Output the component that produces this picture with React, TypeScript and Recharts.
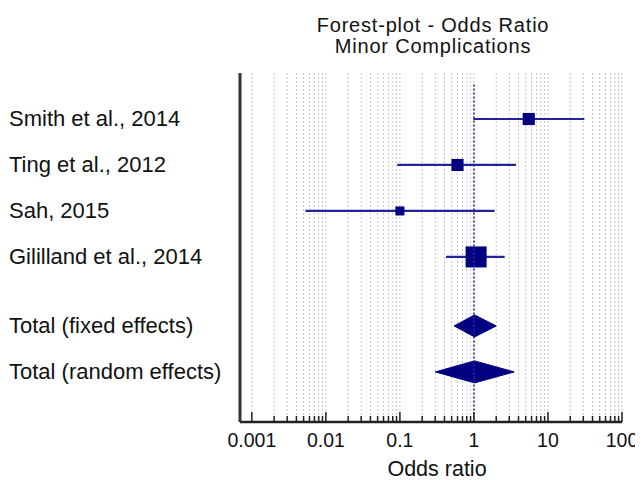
import React from 'react';
import { ComposedChart, Bar, XAxis, YAxis, CartesianGrid, ReferenceLine, Label } from 'recharts';

// ---- data ----
const studyLabels = [
  'Smith et al., 2014',
  'Ting et al., 2012',
  'Sah, 2015',
  'Gililland et al., 2014',
  'Total (fixed effects)',
  'Total (random effects)',
];
const rowPositions = [0, 1, 2, 3, 4.5, 5.5];
const oddsRatios = [5.5, 0.6, 0.1, 1.07, 1.02, 1.02];
const ciLower = [0.98, 0.092, 0.0053, 0.42, 0.54, 0.3];
const ciUpper = [31, 3.7, 1.9, 2.6, 2.0, 3.5];
const studyWeights = [18, 18, 10, 54, 100, 100];
const rowKinds = ['study', 'study', 'study', 'study', 'total', 'total'];

const decadeValues = [0.001, 0.01, 0.1, 1, 10, 100];
const tickLabels = ['0.001', '0.01', '0.1', '1', '10', '100'];
const minorMultipliers = [1, 2, 3, 4, 5, 6, 7, 8, 9];

const title1 = 'Forest-plot - Odds Ratio';
const title2 = 'Minor Complications';
const xTitle = 'Odds ratio';

// ---- derived ----
const decadeLogs = decadeValues.map((v) => Math.log10(v));
const gridTicks: number[] = [];
decadeValues.slice(0, -1).forEach((d) => {
  minorMultipliers.forEach((m) => gridTicks.push(Math.log10(d * m)));
});
gridTicks.push(Math.log10(decadeValues[decadeValues.length - 1]));

const rows = studyLabels.map((name, i) => ({
  name,
  pos: rowPositions[i],
  range: [Math.log10(ciLower[i]), Math.log10(ciUpper[i])],
  est: Math.log10(oddsRatios[i]),
  lo: Math.log10(ciLower[i]),
  hi: Math.log10(ciUpper[i]),
  weight: studyWeights[i],
  kind: rowKinds[i],
}));

const FONT = '"Liberation Sans", Arial, Helvetica, sans-serif';
const NAVY = '#000080';
const LINE = '#22229a';

const RowShape = (props: any) => {
  const { x, y, width, height, payload } = props;
  if (x == null || width == null) return null;
  const cy = y + height / 2;
  const frac = (payload.est - payload.lo) / (payload.hi - payload.lo);
  const xe = x + width * frac;
  if (payload.kind === 'total') {
    const h = 11;
    const pts = `${x},${cy} ${xe},${cy - h} ${x + width},${cy} ${xe},${cy + h}`;
    return <polygon points={pts} fill={NAVY} stroke={NAVY} strokeWidth={1} />;
  }
  const side = 2.86 * Math.sqrt(payload.weight);
  return (
    <g>
      <line x1={x} x2={x + width} y1={cy} y2={cy} stroke={LINE} strokeWidth={2.2} />
      <rect x={xe - side / 2} y={cy - side / 2} width={side} height={side} fill={NAVY} />
    </g>
  );
};

const StudyTick = (props: any) => {
  const { y, payload } = props;
  const idx = rowPositions.findIndex((p) => Math.abs(p - payload.value) < 1e-9);
  if (idx < 0) return null;
  return (
    <text x={1} y={y + 7.5} textAnchor="start" fontSize={22} fill="#111" fontFamily={FONT}>
      {studyLabels[idx]}
    </text>
  );
};

const OddsTick = (props: any) => {
  const { x, y, payload } = props;
  const idx = decadeLogs.findIndex((d) => Math.abs(d - payload.value) < 1e-9);
  const major = idx >= 0;
  return (
    <g>
      <line x1={x} x2={x} y1={y} y2={y - (major ? 10 : 6)} stroke="#222" strokeWidth={1.5} />
      {major && (
        <text x={x} y={y + 25} textAnchor="middle" fontSize={19.5} fill="#111" fontFamily={FONT}>
          {tickLabels[idx]}
        </text>
      )}
    </g>
  );
};

export default function App() {
  return (
    <div style={{ position: 'relative', width: 640, height: 472, fontFamily: FONT }}>
      <svg
        width={640}
        height={60}
        style={{ position: 'absolute', left: 0, top: 0, pointerEvents: 'none' }}
      >
        <text x={425} y={24} textAnchor="middle" fontSize={20} letterSpacing={0.8} fill="#111" fontFamily={FONT}>
          {title1}
        </text>
        <text x={425} y={45} textAnchor="middle" fontSize={20} letterSpacing={0.8} fill="#111" fontFamily={FONT}>
          {title2}
        </text>
      </svg>
      <ComposedChart
        width={640}
        height={472}
        data={rows}
        layout="vertical"
        margin={{ top: 65, right: 26, bottom: 0, left: 0 }}
        style={{ overflow: 'visible' }}
      >
        <CartesianGrid horizontal={false} vertical stroke="#c4c4c4" strokeDasharray="2 2" />
        <XAxis
          type="number"
          domain={[-3.16, 2]}
          allowDataOverflow
          ticks={gridTicks}
          interval={0}
          tick={<OddsTick />}
          tickLine={false}
          tickSize={0}
          tickMargin={0}
          axisLine={{ stroke: '#222', strokeWidth: 2.5 }}
          height={58}
        >
          <Label value={xTitle} position="insideBottom" offset={4} dx={6} fontSize={21.5} fill="#111" fontFamily={FONT} />
        </XAxis>
        <YAxis
          type="number"
          dataKey="pos"
          domain={[-1, 6.59]}
          allowDataOverflow
          ticks={rowPositions}
          interval={0}
          tick={<StudyTick />}
          tickLine={false}
          axisLine={{ stroke: '#333', strokeWidth: 3 }}
          width={232}
        />
        <ReferenceLine
          segment={[
            { x: 0, y: -0.75 },
            { x: 0, y: 6.59 },
          ]}
          stroke="#2a2aa8"
          strokeWidth={1.6}
          strokeDasharray="2 2"
        />
        <Bar dataKey="range" barSize={24} shape={<RowShape />} isAnimationActive={false} />
      </ComposedChart>
    </div>
  );
}
